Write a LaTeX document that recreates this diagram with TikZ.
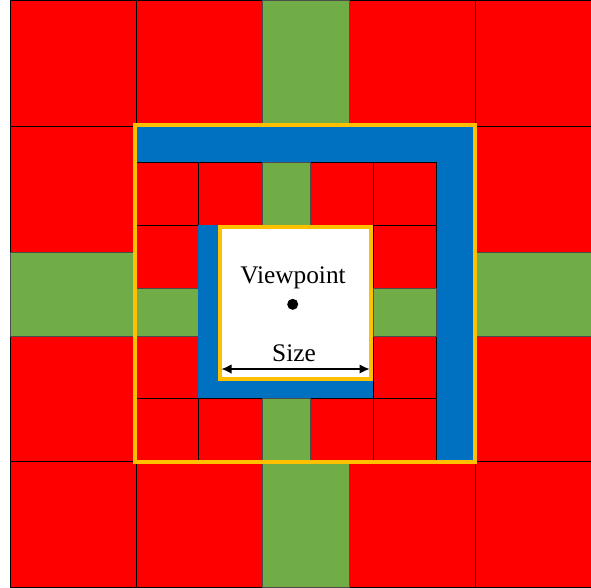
\documentclass[tikz,border=0pt]{standalone}
\usepackage{fontspec}
\setmainfont{Liberation Serif}
\usetikzlibrary{arrows.meta,positioning}

\begin{document}
\begin{tikzpicture}[x=0.75pt,y=0.75pt,yscale=-1,xscale=1,
  redtile/.style={fill={rgb, 255:red, 255; green, 0; blue, 0 },draw=black,line width=0.6pt},
  greentile/.style={fill={rgb, 255:red, 112; green, 173; blue, 71 },draw=black!70,line width=0.6pt},
  bluestrip/.style={fill={rgb, 255:red, 0; green, 112; blue, 192 }},
  yellowframe/.style={draw={rgb, 255:red, 255; green, 192; blue, 0 },line width=3pt},
  sizearrow/.style={{Latex[length=7.5pt,width=7pt]}-{Latex[length=7.5pt,width=7pt]},line width=0.8pt},
  labeltext/.style={font=\fontsize{19}{22}\selectfont,inner sep=0pt,anchor=base}]
\useasboundingbox (0,0) rectangle (591,587);
\fill[white] (0,0) rectangle (591,587);
\begin{scope}
\clip (0,0) rectangle (591,587);

%Outer tiles: red
\foreach \xa/\ya/\xb/\yb in {10/0/136/126, 136/0/262/126, 349/0/475/126, 475/0/601/126,
  10/126/136/252, 475/126/601/252,
  10/336/136/461, 475/336/601/461,
  10/461/136/587, 136/461/262/587, 349/461/475/587, 475/461/601/587}
  \draw[redtile] (\xa,\ya) rectangle (\xb,\yb);
%Outer tiles: green bands
\draw[greentile] (262,0) rectangle (349,126);
\draw[greentile] (262,461) rectangle (349,587);
\draw[greentile] (10,252) rectangle (136,336);
\draw[greentile] (475,252) rectangle (601,336);

%Shape: Blue L (outer level)
\fill[bluestrip] (136,126) rectangle (475,162);
\fill[bluestrip] (436,126) rectangle (475,461);

%Inner tiles: red
\foreach \xa/\ya/\xb/\yb in {136/162/198/225, 198/162/262/225, 310/162/373/225, 373/162/436/225,
  136/225/198/288, 373/225/436/288,
  136/336/198/398, 373/336/436/398,
  136/398/198/461, 198/398/262/461, 310/398/373/461, 373/398/436/461}
  \draw[redtile] (\xa,\ya) rectangle (\xb,\yb);
%Inner tiles: green bands
\draw[greentile] (262,162) rectangle (310,225);
\draw[greentile] (262,398) rectangle (310,461);
\draw[greentile] (136,288) rectangle (198,336);
\draw[greentile] (373,288) rectangle (436,336);

%Shape: Blue L (inner level)
\fill[bluestrip] (198,225) rectangle (373,398);
%Shape: Viewport square
\draw[yellowframe,fill=white] (219.7,227) rectangle (371,378.7);

%Shape: Outer frame
\draw[yellowframe] (134.7,124.7) rectangle (475.3,462);
\end{scope}

% Text Node
\node[labeltext] (viewlabel) at (293,283) {Viewpoint};
% Dot
\node[circle,fill=black,inner sep=0pt,minimum size=8.3pt] (viewpoint) at (292.7,304.3) {};
% Size arrow
\coordinate (sizeL) at (221.5,369);
\coordinate (sizeR) at (369.5,369);
\draw[sizearrow] (sizeL) -- (sizeR);
% Text Node
\node[labeltext] (sizelabel) at (294,361.5) {Size};

\end{tikzpicture}
\end{document}
